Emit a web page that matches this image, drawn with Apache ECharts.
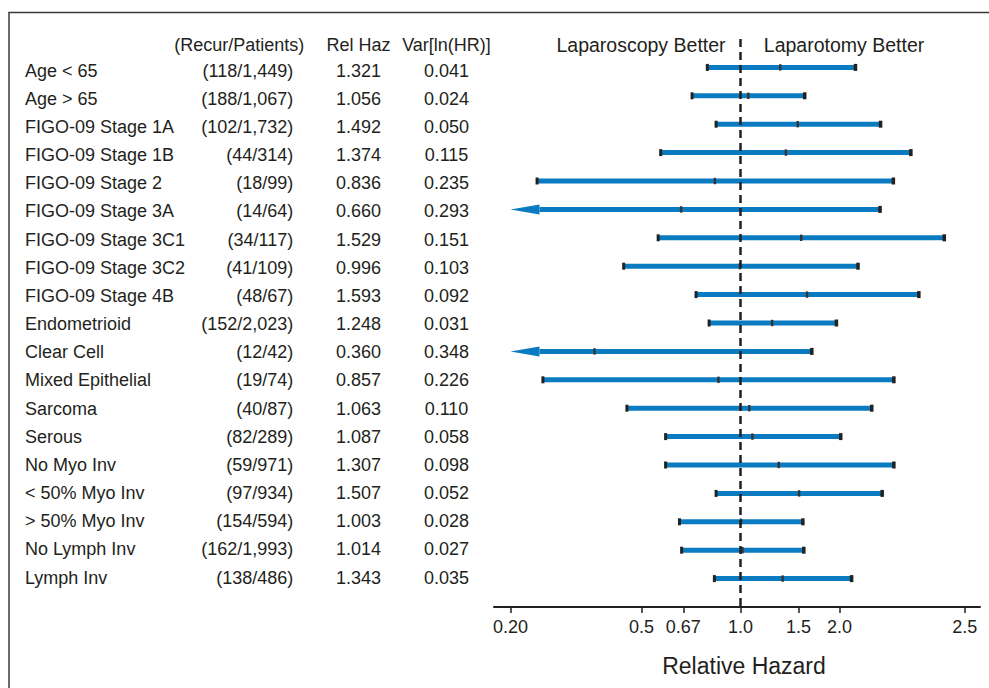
<!DOCTYPE html>
<html>
<head>
<meta charset="utf-8">
<script src="https://cdn.jsdelivr.net/npm/echarts@6/dist/echarts.min.js"></script>
<style>
html,body{margin:0;padding:0;background:#fff;}
#chart{width:989px;height:688px;}
</style>
</head>
<body>
<div id="chart"></div>
<script>
// ---- data ----
const categories = ['Age < 65','Age > 65','FIGO-09 Stage 1A','FIGO-09 Stage 1B','FIGO-09 Stage 2','FIGO-09 Stage 3A','FIGO-09 Stage 3C1','FIGO-09 Stage 3C2','FIGO-09 Stage 4B','Endometrioid','Clear Cell','Mixed Epithelial','Sarcoma','Serous','No Myo Inv','< 50% Myo Inv','> 50% Myo Inv','No Lymph Inv','Lymph Inv'];
const recurPatients = ['(118/1,449)','(188/1,067)','(102/1,732)','(44/314)','(18/99)','(14/64)','(34/117)','(41/109)','(48/67)','(152/2,023)','(12/42)','(19/74)','(40/87)','(82/289)','(59/971)','(97/934)','(154/594)','(162/1,993)','(138/486)'];
const relHaz = [1.321,1.056,1.492,1.374,0.836,0.660,1.529,0.996,1.593,1.248,0.360,0.857,1.063,1.087,1.307,1.507,1.003,1.014,1.343];
const varLnHR = [0.041,0.024,0.050,0.115,0.235,0.293,0.151,0.103,0.092,0.031,0.348,0.226,0.110,0.058,0.098,0.052,0.028,0.027,0.035];
const ciLower = [0.79,0.71,0.84,0.57,0.24,0.16,0.56,0.44,0.73,0.80,0.08,0.25,0.45,0.59,0.59,0.84,0.65,0.66,0.83];
const ciUpper = [2.24,1.57,2.67,3.30,2.92,2.66,4.17,2.28,3.49,1.96,1.65,2.93,2.51,2.02,2.93,2.70,1.55,1.56,2.18];
const tickValues = [0.2,0.5,0.67,1.0,1.5,2.0,4.8];
const tickLabels = ['0.20','0.5','0.67','1.0','1.5','2.0','2.5'];
const colHeaders = ['(Recur/Patients)','Rel Haz','Var[ln(HR)]'];
const sideHeaders = ['Laparoscopy Better','Laparotomy Better'];
const axisTitle = 'Relative Hazard';

// ---- layout / style ----
const FONT = '"Liberation Sans", Arial, Helvetica, sans-serif';
const TXT = '#231f20';
const BLUE = '#0a7bc0';
const CLIP = 0.2;          // left display limit (arrow beyond)
const X_MIN = -1.725, X_MAX = 1.676;   // ln scale limits
const HEAD = -0.9;

const ln = Math.log;
const rowIdx = categories.map((_, i) => i);

const chart = echarts.init(document.getElementById('chart'), null, {renderer: 'svg'});

function textAxis(values, fmt, align, margin, size) {
  return {
    type: 'value', gridIndex: 1, inverse: true, min: -1, max: 19, position: 'left', offset: 0,
    axisLine: {show: false}, axisTick: {show: false}, splitLine: {show: false},
    axisLabel: {
      customValues: values, formatter: fmt, align: align, margin: margin,
      fontSize: size || 18, color: TXT, fontFamily: FONT, verticalAlign: 'middle'
    }
  };
}

const option = {
  animation: false,
  backgroundColor: '#fff',
  grid: [
    {left: 494, right: 9, top: 39, height: 568, outerBoundsMode: 'none'},
    {left: 494, right: 9, top: 42.33, height: 563.4, outerBoundsMode: 'none'}
  ],
  xAxis: [
    {
      type: 'value', gridIndex: 0, min: X_MIN, max: X_MAX, position: 'bottom',
      axisLine: {show: true, onZero: false, lineStyle: {color: TXT, width: 2}},
      axisTick: {show: true, customValues: tickValues.map(ln), length: 6, lineStyle: {color: TXT, width: 1.5}},
      axisLabel: {
        customValues: tickValues.map(ln), margin: 11, fontSize: 18, color: TXT, fontFamily: FONT,
        formatter: function (v) {
          let best = 0, d = Infinity;
          tickValues.forEach((t, i) => { const dd = Math.abs(ln(t) - v); if (dd < d) { d = dd; best = i; } });
          return tickLabels[best];
        }
      },
      splitLine: {show: false},
      name: axisTitle, nameLocation: 'middle', nameGap: 47,
      nameTextStyle: {fontSize: 23, color: TXT, fontFamily: FONT, padding: [0, 0, 0, 14]}
    },
    {type: 'value', gridIndex: 1, show: false, min: 0, max: 1}
  ],
  yAxis: [
    {type: 'value', gridIndex: 0, inverse: true, min: -1, max: 19, show: false},
    textAxis(rowIdx, v => categories[Math.round(v)], 'left', 469),
    textAxis(rowIdx, v => recurPatients[Math.round(v)], 'right', 200.7),
    textAxis([HEAD], () => colHeaders[0], 'right', 189.7),
    textAxis([HEAD].concat(rowIdx), v => v < -0.5 ? colHeaders[1] : relHaz[Math.round(v)].toFixed(3), 'center', 135.5),
    textAxis([HEAD].concat(rowIdx), v => v < -0.5 ? colHeaders[2] : varLnHR[Math.round(v)].toFixed(3), 'center', 47.5)
  ],
  graphic: [
    {type: 'polyline', shape: {points: [[9, 688], [9, 12.5], [989, 12.5]]}, style: {stroke: '#3a3a3a', lineWidth: 1.5, fill: null}, silent: true},
    {type: 'text', x: 641, y: 45, style: {text: sideHeaders[0], fontSize: 19.5, fontFamily: FONT, fill: TXT, align: 'center', verticalAlign: 'middle'}},
    {type: 'text', x: 844, y: 45, style: {text: sideHeaders[1], fontSize: 19.5, fontFamily: FONT, fill: TXT, align: 'center', verticalAlign: 'middle'}}
  ],
  series: [
    {
      type: 'custom',
      xAxisIndex: 0, yAxisIndex: 0,
      z: 2,
      data: categories.map((c, i) => [ln(relHaz[i]), i, ln(ciLower[i]), ln(ciUpper[i])]),
      encode: {x: [0, 2, 3], y: 1},
      renderItem: function (params, api) {
        const y = api.value(1);
        const lo = api.value(2), hi = api.value(3);
        const clipped = lo < ln(CLIP);
        const pLo = api.coord([clipped ? ln(CLIP) : lo, y]);
        const pHi = api.coord([hi, y]);
        const pHR = api.coord([api.value(0), y]);
        const cy = pLo[1];
        const children = [];
        const lineStart = clipped ? pLo[0] + 29 : pLo[0];
        children.push({type: 'line', shape: {x1: lineStart, y1: cy, x2: pHi[0], y2: cy}, style: {stroke: BLUE, lineWidth: 5}});
        if (clipped) {
          children.push({type: 'polygon', shape: {points: [[pLo[0], cy], [pLo[0] + 29, cy - 5], [pLo[0] + 29, cy + 5]]}, style: {fill: BLUE}});
        } else {
          children.push({type: 'rect', shape: {x: pLo[0] - 1, y: cy - 3.5, width: 3, height: 7}, style: {fill: '#222'}});
        }
        children.push({type: 'rect', shape: {x: pHi[0] - 2, y: cy - 3.5, width: 3.5, height: 7}, style: {fill: '#222'}});
        children.push({type: 'rect', shape: {x: pHR[0] - 1.2, y: cy - 3.2, width: 2.4, height: 6.4}, style: {fill: '#333'}});
        return {type: 'group', children: children};
      }
    },
    {
      type: 'line',
      xAxisIndex: 0, yAxisIndex: 0,
      z: 5,
      symbol: 'none',
      data: [[0, -1], [0, 19]],
      lineStyle: {color: TXT, width: 2.5, type: [8, 5]},
      silent: true
    }
  ]
};
chart.setOption(option);
</script>
</body>
</html>
